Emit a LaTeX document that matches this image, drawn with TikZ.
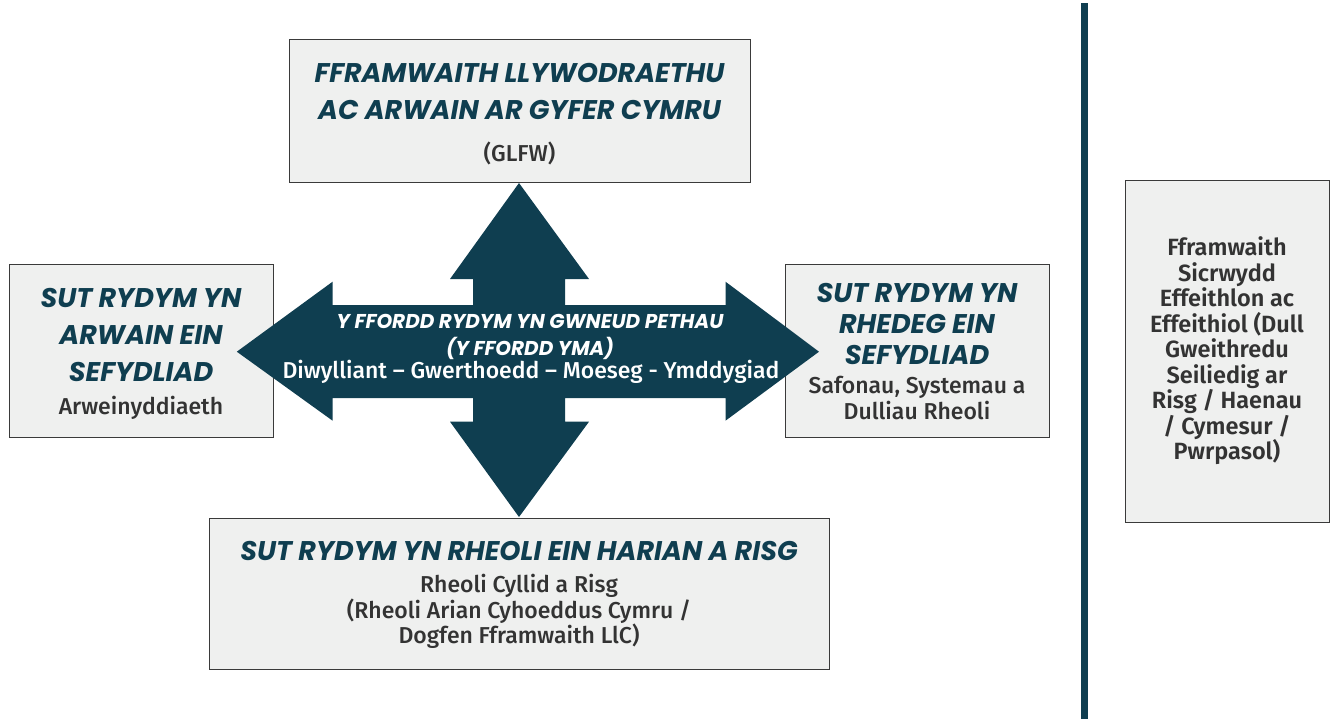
\documentclass[tikz,border=0pt]{standalone}
\usepackage{fontspec}
\setmainfont{Fira Sans}[UprightFont={* Medium},BoldFont={* SemiBold}]
\newfontfamily\headfont{Poppins}
\definecolor{teal}{HTML}{0F3E50}
\definecolor{boxfill}{HTML}{EFF0EF}
\definecolor{boxline}{HTML}{3A3A3A}
\definecolor{bodytext}{HTML}{333333}
\begin{document}
\begin{tikzpicture}[x=1pt,y=-1pt,
  box/.style={draw=boxline,line width=0.9pt,fill=boxfill,rectangle,inner sep=0pt},
  head/.style={text=teal,font=\headfont\bfseries\itshape\fontsize{27}{37}\selectfont,align=center,inner sep=0pt},
  body/.style={text=bodytext,font=\fontsize{23}{25.5}\selectfont,align=center,inner sep=0pt},
  arrowfill/.style={fill=teal,draw=none}]
\useasboundingbox (0,0) rectangle (1337,719);
% boxes
\node[box,minimum width=461pt,minimum height=143pt] (top) at (519.5,110.5) {};
\node[box,minimum width=264pt,minimum height=173pt] (left) at (141,350.5) {};
\node[box,minimum width=264pt,minimum height=173pt] (right) at (917,350.5) {};
\node[box,minimum width=620pt,minimum height=151pt] (bottom) at (519,593.5) {};
\node[box,minimum width=204pt,minimum height=342pt] (far) at (1227,351) {};
% divider
\fill[teal] (1081,3) rectangle (1088,719);
% cross arrow
\path[arrowfill] (519,183) -- (589,279) -- (565,279) -- (565,305) -- (725.5,305) -- (725.5,281.7)
  -- (819,351.7) -- (725.5,420.7) -- (725.5,398) -- (565,398) -- (565,421.7) -- (589,421.7)
  -- (519,517) -- (450,421.7) -- (473,421.7) -- (473,398) -- (332.6,398) -- (332.6,420.7)
  -- (236.8,351.7) -- (332.6,281.7) -- (332.6,305) -- (473,305) -- (473,279) -- (450,279) -- cycle;
% texts
\node[head] (tophead) at (519.5,91) {FFRAMWAITH LLYWODRAETHU\\AC ARWAIN AR GYFER CYMRU};
\node[body] (topbody) at (519.5,153) {(GLFW)};
\node[head] (lefthead) at (141,335) {SUT RYDYM YN\\ARWAIN EIN\\SEFYDLIAD};
\node[body] (leftbody) at (141,408) {Arweinyddiaeth};
\node[head,font=\headfont\bfseries\itshape\fontsize{27}{31}\selectfont] (righthead) at (917,323.5) {SUT RYDYM YN\\RHEDEG EIN\\SEFYDLIAD};
\node[body,font=\fontsize{23}{26}\selectfont] (rightbody) at (917,398) {Safonau, Systemau a\\Dulliau Rheoli};
\node[head] (bottomhead) at (519,551) {SUT RYDYM YN RHEOLI EIN HARIAN A RISG};
\node[body] (bottombody) at (519,611.5) {Rheoli Cyllid a Risg\\(Rheoli Arian Cyhoeddus Cymru /\\Dogfen Fframwaith LlC)};
\node[body,font=\bfseries\fontsize{23.5}{25.5}\selectfont] (farbody) at (1227,351) {Fframwaith\\Sicrwydd\\Effeithlon ac\\Effeithiol (Dull\\Gweithredu\\Seiliedig ar\\Risg / Haenau\\/ Cymesur /\\Pwrpasol)};
\node[head,text=white,font=\headfont\bfseries\itshape\fontsize{20}{27}\selectfont] (midhead) at (530,336.5) {Y FFORDD RYDYM YN GWNEUD PETHAU\\(Y FFORDD YMA)};
\node[body,text=white] (midbody) at (531,372) {Diwylliant – Gwerthoedd – Moeseg - Ymddygiad};
\end{tikzpicture}
\end{document}
